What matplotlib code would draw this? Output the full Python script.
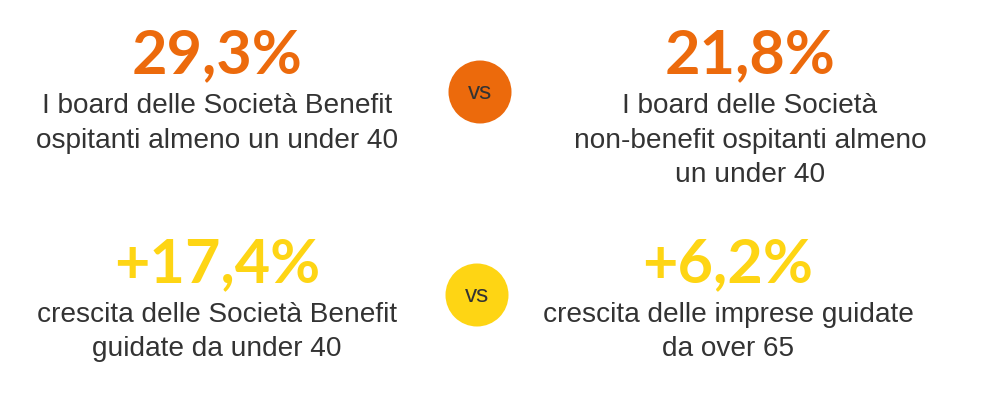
import matplotlib
matplotlib.use("Agg")
import matplotlib.pyplot as plt
from matplotlib.patches import Circle

# ---- data ----
values = ["29,3%", "21,8%", "+17,4%", "+6,2%"]
descriptions = [
    "I board delle Società Benefit\nospitanti almeno un under 40",
    "I board delle Società\nnon-benefit ospitanti almeno\nun under 40",
    "crescita delle Società Benefit\nguidate da under 40",
    "crescita delle imprese guidate\nda over 65",
]
vs_label = "vs"

# ---- style / layout ----
ORANGE = "#EC6A0C"
YELLOW = "#FED514"
TEXT = "#333333"
row_colors = [ORANGE, ORANGE, YELLOW, YELLOW]
centers_x = [217, 750, 217, 728]
num_baseline = [73, 73, 282, 282]
desc_baseline = [113, 113, 322, 322]
line_step = 34.5
circles = [(480, 92, 31.5, ORANGE), (477, 295, 31.5, YELLOW)]

fig = plt.figure(figsize=(9.9, 4.09), dpi=100)
ax = fig.add_axes([0, 0, 1, 1])
ax.set_xlim(0, 990)
ax.set_ylim(409, 0)
ax.axis("off")

for i in range(len(values)):
    ax.text(centers_x[i], num_baseline[i], values[i], color=row_colors[i],
            fontsize=44, fontweight="bold", family="Lato",
            ha="center", va="baseline")
    for j, line in enumerate(descriptions[i].split("\n")):
        ax.text(centers_x[i], desc_baseline[i] + j * line_step, line,
                color=TEXT, fontsize=20.2, family="Liberation Sans",
                ha="center", va="baseline")

for (cx, cy, r, c) in circles:
    ax.add_patch(Circle((cx, cy), r, color=c, lw=0))
    ax.text(cx, cy + 1, vs_label, color=TEXT, fontsize=17.5,
            family="Liberation Sans", ha="center", va="center")

fig.savefig("out.png", dpi=100, facecolor="white")
